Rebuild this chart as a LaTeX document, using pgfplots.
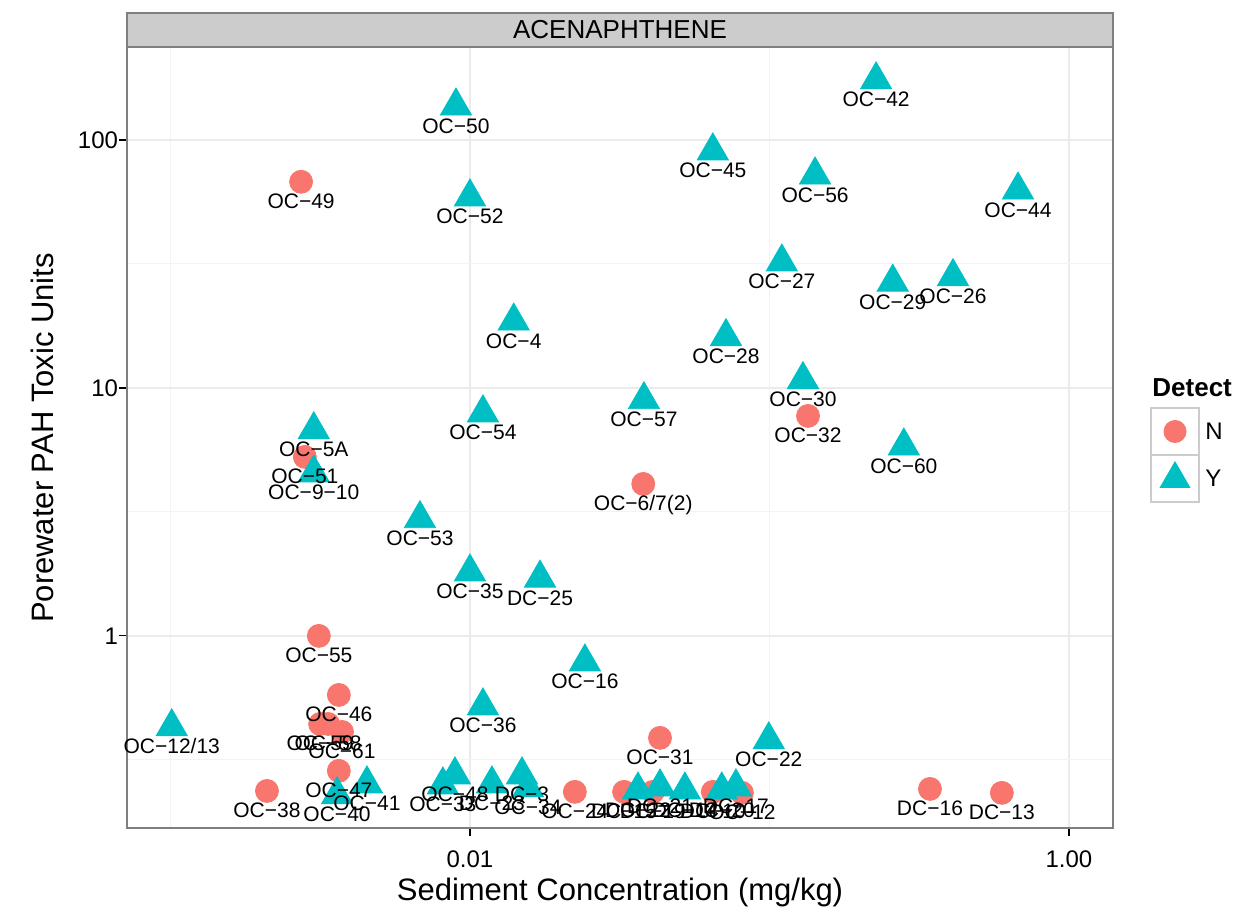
\documentclass[border=0pt]{standalone}
\usepackage{fontspec}
\setmainfont{Liberation Sans}
\usepackage{pgfplots}
\usepackage{pgfplotstable}
\pgfplotsset{compat=1.18}
\definecolor{cN}{HTML}{F8766D}
\definecolor{cY}{HTML}{00BFC4}
\definecolor{framegray}{HTML}{7F7F7F}
\definecolor{stripgray}{HTML}{CCCCCC}
\definecolor{gridmaj}{HTML}{EBEBEB}
\definecolor{gridmin}{HTML}{F3F3F3}

\pgfplotstableread{
x y label
0.00273 67.8 OC−49
0.1345 7.71 OC−32
0.00281 5.27 OC−51
0.0379 4.10 OC−6/7(2)
0.00313 1.00 OC−55
0.00365 0.578 OC−46
0.00316 0.4415 OC−59
0.00336 0.4415 OC−58
0.00374 0.410 OC−61
0.00365 0.2857 OC−47
0.00210 0.237 OC−38
0.0431 0.388 OC−31
0.3435 0.2415 DC−16
0.597 0.2328 DC−13
0.0224 0.235 OC−24
0.0327 0.235 DC−15
0.0408 0.235 DC−19
0.0647 0.235 DC−10
0.0809 0.233 OC−12
}\dataN

\pgfplotstableread{
x y label
0.227 174.7 OC−42
0.00898 137 OC−50
0.0647 90.3 OC−45
0.142 72.2 OC−56
0.676 62.8 OC−44
0.0100 58.9 OC−52
0.110 32.2 OC−27
0.258 26.7 OC−29
0.410 28.1 OC−26
0.0140 18.6 OC−4
0.0716 16.1 OC−28
0.1294 10.8 OC−30
0.01105 7.93 OC−54
0.0381 8.96 OC−57
0.281 5.83 OC−60
0.00301 6.78 OC−5A
0.00301 4.54 OC−9−10
0.00681 2.97 OC−53
0.0100 1.81 OC−35
0.01714 1.71 DC−25
0.0242 0.785 OC−16
0.01105 0.522 OC−36
0.00101 0.430 OC−12/13
0.0995 0.381 OC−22
0.00453 0.253 OC−41
0.00360 0.2286 OC−40
0.00891 0.275 OC−48
0.00812 0.2506 OC−33
0.01184 0.253 DC−23
0.01492 0.275 DC−3
0.01563 0.244 OC−34
0.0364 0.239 DC−22
0.0431 0.246 DC−21
0.0522 0.239 DC−14
0.0693 0.239 DC−20
0.0773 0.246 DC−17
}\dataY

\begin{document}
\begin{tikzpicture}
\path[use as bounding box] (0,0) rectangle (620pt,457pt);
\begin{axis}[
  name=ax,
  at={(63.5pt,43pt)}, anchor=south west,
  scale only axis, width=493pt, height=390.5pt,
  xmode=log, ymode=log,
  xmin=0.000716, xmax=1.403, ymin=0.168, ymax=237,
  xtick={0.01,1}, xticklabels={0.01,1.00},
  ytick={1,10,100}, yticklabels={1,10,100},
  minor xtick={0.001,0.1},
  minor ytick={0.3162,3.162,31.62},
  xtick pos=bottom, ytick pos=left,
  grid=both,
  major grid style={gridmaj, line width=0.7pt},
  minor grid style={gridmin, line width=0.5pt},
  axis line style={framegray, line width=1pt},
  tick align=outside,
  major tick length=4pt, minor tick length=0pt,
  tick style={black, line width=0.6pt},
  ticklabel style={font=\fontsize{12}{14}\selectfont},
  xticklabel style={yshift=-4pt},
  yticklabel style={xshift=3pt},
  clip=false,
]
\addplot[only marks, mark=*, mark size=5.75pt, color=cN, mark options={draw=none, fill=cN}]
  table[x=x, y=y]{\dataN};
\addplot[only marks, mark=triangle*, mark size=9pt, color=cY, mark options={draw=none, fill=cY}]
  table[x=x, y=y]{\dataY};
\addplot[only marks, mark=none, nodes near coords, point meta=explicit symbolic,
  nodes near coords style={anchor=base, yshift=-13.5pt, inner sep=0pt, text=black,
    font=\fontsize{10.5}{12}\selectfont}]
  table[x=x, y=y, meta=label]{\dataN};
\addplot[only marks, mark=none, nodes near coords, point meta=explicit symbolic,
  nodes near coords style={anchor=base, yshift=-13.5pt, inner sep=0pt, text=black,
    font=\fontsize{10.5}{12}\selectfont}]
  table[x=x, y=y, meta=label]{\dataY};
\end{axis}
% facet strip
\draw[fill=stripgray, draw=framegray, line width=1pt] (ax.north west) rectangle ([yshift=17pt]ax.north east);
\node[font=\fontsize{13}{15}\selectfont, inner sep=0pt] at ([yshift=8.5pt]ax.north) {ACENAPHTHENE};
% axis titles
\node[font=\fontsize{15.5}{18}\selectfont, inner sep=0pt] at (310pt,11pt) {Sediment Concentration (mg/kg)};
\node[font=\fontsize{15.5}{18}\selectfont, inner sep=0pt, rotate=90] at (21pt,238pt) {Porewater PAH Toxic Units};
% legend
\node[font=\fontsize{13}{15}\selectfont\bfseries, anchor=west, inner sep=0pt] at (576pt,263pt) {Detect};
\draw[draw=stripgray, fill=white, line width=0.8pt] (575.5pt,229.5pt) rectangle (599.5pt,253pt);
\draw[draw=stripgray, fill=white, line width=0.8pt] (575.5pt,206pt) rectangle (599.5pt,229.5pt);
\fill[cN] (587.5pt,241.25pt) circle (5.75pt);
\fill[cY] (587.5pt,226.5pt) -- (579.7pt,213.0pt) -- (595.3pt,213.0pt) -- cycle;
\node[font=\fontsize{12}{14}\selectfont, anchor=west, inner sep=0pt] at (602.5pt,241.25pt) {N};
\node[font=\fontsize{12}{14}\selectfont, anchor=west, inner sep=0pt] at (602.5pt,217.75pt) {Y};
\end{tikzpicture}
\end{document}
